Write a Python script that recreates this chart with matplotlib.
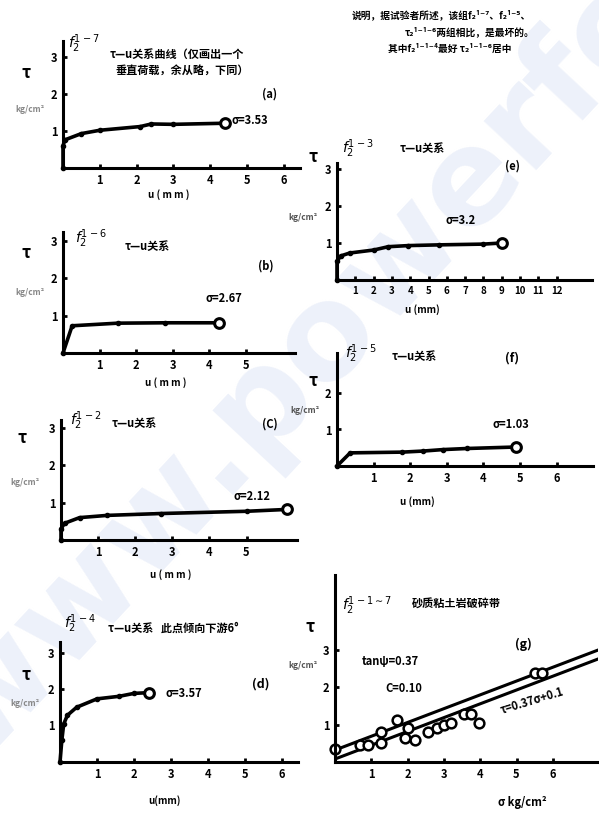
import matplotlib
matplotlib.use('Agg')
import matplotlib.pyplot as plt
import numpy as np

plt.rcParams['font.family'] = ['Noto Sans CJK SC', 'DejaVu Sans']

W, H = 599, 813

# dati: u (mm) e tau (kg/cm2)
u_a = [0, 0, 0.05, 0.5, 1.0, 2.1, 2.4, 3.0, 4.4]
t_a = [0, 0.6, 0.76, 0.93, 1.02, 1.12, 1.19, 1.18, 1.21]
u_b = [0, 0.25, 1.5, 2.8, 4.25]
t_b = [0, 0.73, 0.8, 0.81, 0.81]
u_c = [0, 0, 0.1, 0.5, 1.25, 2.7, 5.0, 6.1]
t_c = [0, 0.3, 0.45, 0.6, 0.66, 0.71, 0.77, 0.82]
u_d = [0, 0.05, 0.1, 0.2, 0.45, 1.0, 1.6, 2.0, 2.4]
t_d = [0, 0.6, 1.04, 1.28, 1.5, 1.73, 1.8, 1.88, 1.9]
u_e = [0, 0, 0.2, 0.7, 2.0, 2.8, 3.9, 5.6, 8.0, 9.0]
t_e = [0, 0.5, 0.65, 0.73, 0.81, 0.9, 0.93, 0.95, 0.97, 1.0]
u_f = [0, 0.36, 1.78, 2.36, 2.9, 3.56, 4.88]
t_f = [0, 0.36, 0.38, 0.41, 0.45, 0.48, 0.52]

sig_g = [0, 0.68, 0.9, 1.28, 1.28, 1.7, 2.0, 1.92, 2.2, 2.55, 2.8, 3.0, 3.2,
         3.55, 3.75, 3.97, 5.5, 5.7]
tau_g = [0.35, 0.45, 0.45, 0.8, 0.5, 1.13, 0.9, 0.65, 0.6, 0.8, 0.9, 1.0,
         1.04, 1.28, 1.3, 1.04, 2.38, 2.38]
fit_slope = 0.37
fit_c_up, fit_c_low = 0.32, 0.08

fig = plt.figure(figsize=(W / 100, H / 100), dpi=100)
fig.patch.set_facecolor('white')

# filigrana
fig.text(0.50, 0.55, 'www.powerfo', fontsize=95, color='#edf1fa', rotation=47,
         ha='center', va='center', fontweight='bold', zorder=-5, family='DejaVu Sans')


def pannello(x0, y0, x1, y1, ux, uy, xticks, yticks):
    ax = fig.add_axes([x0 / W, 1 - y0 / H, (x1 - x0) / W, (y0 - y1) / H])
    ax.set_xlim(0, (x1 - x0) / ux)
    ax.set_ylim(0, (y0 - y1) / uy)
    ax.patch.set_alpha(0)
    for s in ['top', 'right']:
        ax.spines[s].set_visible(False)
    for s in ['left', 'bottom']:
        ax.spines[s].set_linewidth(2.2)
    ax.set_xticks(xticks)
    ax.set_yticks(yticks)
    ax.tick_params(direction='in', length=3, width=2, labelsize=8, pad=4)
    for lab in ax.get_xticklabels() + ax.get_yticklabels():
        lab.set_fontweight('bold')
    return ax


def curva(ax, u, t):
    ax.plot(u, t, color='black', lw=2.6, marker='.', ms=6, clip_on=False)
    ax.plot(u[-1], t[-1], 'o', ms=7, mfc='white', mec='black', mew=2.2, clip_on=False)


def testo(x, y, s, size=8, **kw):
    fig.text(x / W, 1 - y / H, s, fontsize=size, fontweight='bold', **kw)


# (a)
ax = pannello(63, 168, 300, 41, 36.8, 37, range(1, 7), [1, 2, 3])
curva(ax, u_a, t_a)
testo(68, 48, r'$f_2^{1-7}$', 10, family='DejaVu Sans')
testo(110, 58, 'τ—u关系曲线（仅画出一个', 8)
testo(116, 74, '垂直荷载，余从略，下同）', 8)
testo(262, 98, '(a)', 8)
testo(232, 124, 'σ=3.53', 8)
testo(22, 78, 'τ', 12)
testo(15, 112, 'kg/cm²', 6, color='#888888')
testo(148, 198, 'u ( m m )', 7)

# (b)
ax = pannello(63, 353, 295, 232, 36.6, 37.3, range(1, 6), [1, 2, 3])
curva(ax, u_b, t_b)
testo(75, 243, r'$f_2^{1-6}$', 10, family='DejaVu Sans')
testo(125, 250, 'τ—u关系', 8)
testo(258, 270, '(b)', 8)
testo(205, 302, 'σ=2.67', 8)
testo(22, 258, 'τ', 12)
testo(15, 295, 'kg/cm²', 6, color='#888888')
testo(145, 386, 'u ( m m )', 7)

# (c)
ax = pannello(61, 540, 297, 420, 37.1, 37.3, range(1, 6), [1, 2, 3])
curva(ax, u_c, t_c)
testo(70, 425, r'$f_2^{1-2}$', 10, family='DejaVu Sans')
testo(112, 427, 'τ—u关系', 8)
testo(262, 428, '(C)', 8)
testo(234, 500, 'σ=2.12', 8)
testo(18, 443, 'τ', 12)
testo(10, 485, 'kg/cm²', 6, color='#888888')
testo(150, 578, 'u ( m m )', 7)

# (d)
ax = pannello(60, 762, 298, 642, 37, 36.5, range(1, 7), [1, 2, 3])
curva(ax, u_d, t_d)
testo(64, 628, r'$f_2^{1-4}$', 10, family='DejaVu Sans')
testo(108, 632, 'τ—u关系   此点倾向下游6°', 8)
testo(252, 688, '(d)', 9)
testo(165, 697, 'σ=3.57', 8)
testo(22, 680, 'τ', 12)
testo(10, 706, 'kg/cm²', 6, color='#888888')
testo(148, 804, 'u(mm)', 7)

# (e)
ax = pannello(337, 280, 592, 163, 18.3, 37, range(1, 13), [1, 2, 3])
curva(ax, u_e, t_e)
ax.set_xticklabels(['1', '2', '3', '4', '5', '6', '7', '8', '9', '10', '11', '12'],
                   fontsize=7, fontweight='bold')
testo(342, 153, r'$f_2^{1-3}$', 10, family='DejaVu Sans')
testo(400, 152, 'τ—u关系', 8)
testo(505, 170, '(e)', 8)
testo(446, 224, 'σ=3.2', 8)
testo(308, 162, 'τ', 12)
testo(288, 220, 'kg/cm²', 6, color='#555555')
testo(405, 313, 'u (mm)', 7)

# (f)
ax = pannello(337, 466, 593, 353, 36.6, 36.5, range(1, 7), [1, 2])
curva(ax, u_f, t_f)
testo(345, 358, r'$f_2^{1-5}$', 10, family='DejaVu Sans')
testo(392, 360, 'τ—u关系', 8)
testo(505, 362, '(f)', 9)
testo(492, 428, 'σ=1.03', 8)
testo(308, 386, 'τ', 12)
testo(290, 413, 'kg/cm²', 6, color='#555555')
testo(400, 505, 'u (mm)', 7)

# (g)
ax = pannello(335, 762, 598, 575, 36.3, 37.3, range(1, 7), [1, 2, 3])
xs = np.array([0, 7.3])
ax.plot(xs, fit_slope * xs + fit_c_up, color='black', lw=2.2)
ax.plot(xs, fit_slope * xs + fit_c_low, color='black', lw=2.2)
ax.plot(sig_g, tau_g, 'o', ms=7, mfc='white', mec='black', mew=1.8, clip_on=False)
testo(342, 610, r'$f_2^{1-1\sim7}$', 10, family='DejaVu Sans')
testo(412, 608, '砂质粘土岩破碎带', 8)
testo(515, 648, '(g)', 9)
testo(362, 665, 'tanψ=0.37', 8)
testo(385, 692, 'C=0.10', 8)
ax.text(4.5, 1.3, 'τ=0.37σ+0.1', fontsize=8, fontweight='bold', rotation=17)
testo(306, 632, 'τ', 12)
testo(288, 668, 'kg/cm²', 6, color='#555555')
testo(498, 806, 'σ kg/cm²', 8)

# nota in alto a destra
testo(352, 18, '说明，据试验者所述，该组f₂¹⁻⁷、f₂¹⁻⁵、', 7)
testo(405, 35, 'τ₂¹⁻¹⁻⁶两组相比，是最坏的。', 7)
testo(388, 52, '其中f₂¹⁻¹⁻⁴最好 τ₂¹⁻¹⁻⁶居中', 7)

plt.savefig('out.png', dpi=100)
